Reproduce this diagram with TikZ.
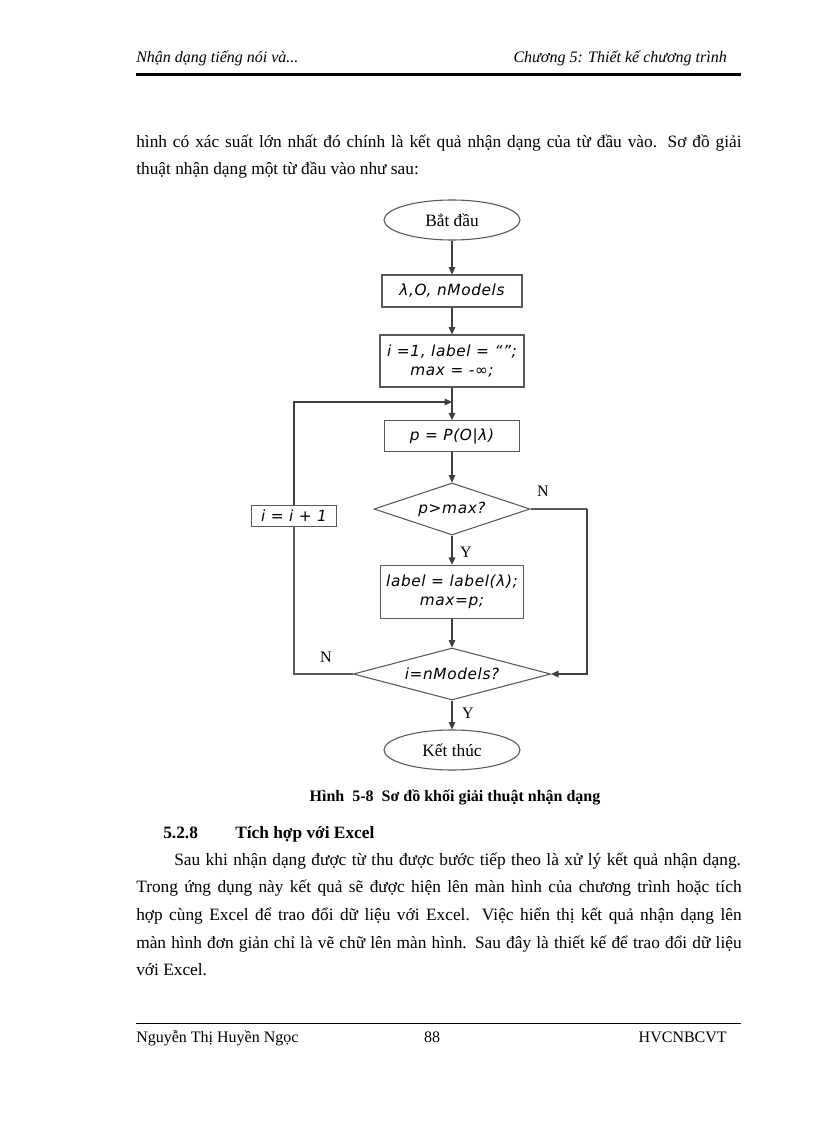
\documentclass[tikz,border=0pt]{standalone}
\usepackage{fontspec}
\setmainfont{Liberation Serif}
\newfontfamily\chartfont[LetterSpace=4]{DejaVu Sans}
\usetikzlibrary{shapes.geometric,arrows.meta}

\begin{document}
\begin{tikzpicture}[x=0.75pt,y=-0.75pt]
        \tikzstyle{every node}+=[inner sep=0pt]
        \tikzstyle{proc}=[draw=black!65, line width=0.8pt, rectangle, align=center, font=\chartfont\itshape\fontsize{11.5}{14}\selectfont]
        \tikzstyle{term}=[draw=black!65, line width=0.8pt, ellipse, minimum width=102pt, minimum height=30pt, font=\fontsize{13}{14}\selectfont]
        \tikzstyle{cond}=[draw=black!65, line width=0.8pt, diamond, font=\chartfont\itshape\fontsize{11.5}{14}\selectfont]
        \tikzstyle{flow}=[draw=black!75, line width=0.8pt, -{Triangle[length=5.5pt,width=5pt]}]
        \tikzstyle{wire}=[draw=black!65, line width=0.8pt]
        \tikzstyle{tag}=[font=\fontsize{12}{14}\selectfont]
        \useasboundingbox (0,0) rectangle (816,1123);
        \fill [white] (0,0) rectangle (816,1123);
        % page header
        \node [anchor=base west, font=\itshape\fontsize{12}{14}\selectfont] (hdleft) at (136,63) {Nhận dạng tiếng nói và...};
        \node [anchor=base east, font=\itshape\fontsize{12}{14}\selectfont] (hdright) at (727,63) {Chương 5: Thiết kế chương trình};
        \draw [black, line width=2.2pt] (136,74.5) -- (741,74.5);
        % text above the chart
        \node [anchor=base west, font=\fontsize{13}{20}\selectfont] (pre1) at (136,148) {\makebox[454pt][s]{hình có xác suất lớn nhất đó chính là kết quả nhận dạng của từ đầu vào. Sơ đồ giải}};
        \node [anchor=base west, font=\fontsize{13}{20}\selectfont] (pre2) at (136,175) {thuật nhận dạng một từ đầu vào như sau:};
        % flow chart
        \node [term] (start) at (452,220) {Bắt đầu};
        \node [proc, minimum width=105pt, minimum height=24pt] (input) at (452,291) {λ,O, nModels};
        \node [proc, minimum width=108pt, minimum height=39pt] (init) at (452,361) {i =1, label = “”;\\ max = -∞;};
        \coordinate (join) at (452,402);
        \node [proc, minimum width=101pt, minimum height=23pt] (prob) at (452,436) {p = P(O|λ)};
        \node [cond, shape aspect=3, minimum width=117pt, minimum height=39pt] (test1) at (452,509) {p>max?};
        \node [proc, minimum width=64pt, minimum height=16pt] (incr) at (294,516) {i = i + 1};
        \node [proc, minimum width=107pt, minimum height=40pt] (keep) at (452,592) {label = label(λ);\\ max=p;};
        \node [cond, shape aspect=3.8, minimum width=148pt, minimum height=39pt] (test2) at (452,674) {i=nModels?};
        \node [term] (stop) at (452,750) {Kết thúc};
        \coordinate (right) at (587,509);
        \node [tag] (n1) at (543,491) {N};
        \node [tag] (y1) at (466,552) {Y};
        \node [tag] (n2) at (326,657) {N};
        \node [tag] (y2) at (468,713) {Y};
        \draw [flow] (start) -- (input);
        \draw [flow] (input) -- (init);
        \draw [flow] (init) -- (prob);
        \draw [flow] (prob) -- (test1);
        \draw [flow] (test1) -- (keep);
        \draw [flow] (keep) -- (test2);
        \draw [flow] (test2) -- (stop);
        \draw [wire] (test1.east) -- (right);
        \draw [flow] (right) |- (test2.east);
        \draw [wire] (test2.west) -| (incr.south);
        \draw [flow] (incr.north) |- (join);
        % caption and section
        \node [font=\bfseries\fontsize{12}{14}\selectfont] (caption) at (455,797) {Hình\ \ 5-8\ \ Sơ đồ khối giải thuật nhận dạng};
        \node [anchor=base west, font=\bfseries\fontsize{13}{20}\selectfont] (secnum) at (163,838) {5.2.8};
        \node [anchor=base west, font=\bfseries\fontsize{13}{20}\selectfont] (sectitle) at (235,838) {Tích hợp với Excel};
        \node [anchor=base west, font=\fontsize{13}{20}\selectfont] (par1) at (174,865) {\makebox[425pt][s]{Sau khi nhận dạng được từ thu được bước tiếp theo là xử lý kết quả nhận dạng.}};
        \node [anchor=base west, font=\fontsize{13}{20}\selectfont] (par2) at (136,892) {\makebox[454pt][s]{Trong ứng dụng này kết quả sẽ được hiện lên màn hình của chương trình hoặc tích}};
        \node [anchor=base west, font=\fontsize{13}{20}\selectfont] (par3) at (136,920) {\makebox[454pt][s]{hợp cùng Excel để trao đổi dữ liệu với Excel. Việc hiển thị kết quả nhận dạng lên}};
        \node [anchor=base west, font=\fontsize{13}{20}\selectfont] (par4) at (136,948) {\makebox[454pt][s]{màn hình đơn giản chỉ là vẽ chữ lên màn hình. Sau đây là thiết kế để trao đổi dữ liệu}};
        \node [anchor=base west, font=\fontsize{13}{20}\selectfont] (par5) at (136,975) {với Excel.};
        % page footer
        \draw [black, line width=0.6pt] (136,1023) -- (741,1023);
        \node [anchor=base west, font=\fontsize{12}{14}\selectfont] (ftleft) at (136,1042) {Nguyễn Thị Huyền Ngọc};
        \node [anchor=base, font=\fontsize{12}{14}\selectfont] (ftmid) at (432,1042) {88};
        \node [anchor=base east, font=\fontsize{12}{14}\selectfont] (ftright) at (727,1042) {HVCNBCVT};
        \end{tikzpicture}
\end{document}
